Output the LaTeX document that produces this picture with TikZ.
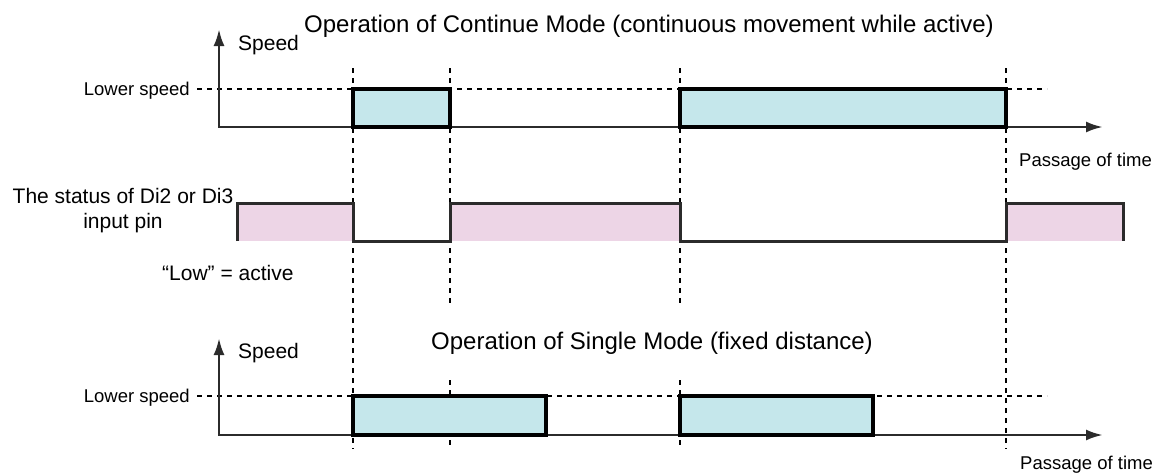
\documentclass[tikz,border=0pt]{standalone}
\usepackage{fontspec}
\setmainfont{Liberation Sans}
\usetikzlibrary{arrows.meta}

\definecolor{pulsecyan}{HTML}{C5E7EB}
\definecolor{pinpink}{HTML}{EDD5E6}
\definecolor{axisgrey}{HTML}{2B2B2B}

\begin{document}
\begin{tikzpicture}[
                        x = 1pt, y = -1pt,
                        > = {Latex[length=17pt,width=11pt]},
              axis/.style = {draw=axisgrey, line width=2.7pt, <->},
             guide/.style = {draw=black, line width=1.3pt, dash pattern=on 5pt off 5pt},
             pulse/.style = {draw=black, line width=3.3pt, fill=pulsecyan},
            signal/.style = {draw=axisgrey, line width=3pt},
              high/.style = {fill=pinpink},
             title/.style = {font=\fontsize{24}{27}\selectfont, anchor=base, inner sep=0pt},
             label/.style = {font=\fontsize{21}{25}\selectfont, inner sep=0pt},
             small/.style = {font=\fontsize{18.5}{22}\selectfont, inner sep=0pt},
            ]
    \useasboundingbox (0,0) rectangle (1156,474);

    % pin status fill
    \foreach \a/\b in {237/353, 450/680, 1006/1123}{%
        \fill[high] (\a,203) rectangle (\b,241);
    }

    % guide lines
    \foreach \t in {353,1006}{%
        \draw[guide] (\t,68) -- (\t,449);
    }
    \foreach \t in {450,680}{%
        \draw[guide] (\t,68) -- (\t,307);
        \draw[guide] (\t,380) -- (\t,449);
    }
    \draw[guide] (197,89) -- (1047,89);
    \draw[guide] (197,396) -- (1047,396);

    % axes
    \coordinate (contOrigin) at (219,127);
    \coordinate (contSpeed)  at (219,29);
    \coordinate (contTime)   at (1103,127);
    \coordinate (singOrigin) at (219,435);
    \coordinate (singSpeed)  at (219,338);
    \coordinate (singTime)   at (1103,435);
    \draw[axis] (contSpeed) -- (contOrigin) -- (contTime);
    \draw[axis] (singSpeed) -- (singOrigin) -- (singTime);

    % speed pulses
    \foreach \a/\b in {353/450, 680/1006}{%
        \draw[pulse] (\a,89) rectangle (\b,127);
    }
    \foreach \a/\b in {353/546, 680/873}{%
        \draw[pulse] (\a,396) rectangle (\b,435);
    }

    % pin status
    \draw[signal] (237,241) -- (237,203) -- (353,203) -- (353,241) -- (450,241)
        -- (450,203) -- (680,203) -- (680,241) -- (1006,241) -- (1006,203)
        -- (1123,203) -- (1123,241);

    % texts
    \node[title] (contTitle) at (649,32) {Operation of Continue Mode (continuous movement while active)};
    \node[title] (singTitle) at (652,349) {Operation of Single Mode (fixed distance)};
    \node[label, anchor=base west] (contSpeedLbl) at (238,50) {Speed};
    \node[label, anchor=base west] (singSpeedLbl) at (238,358) {Speed};
    \node[small, anchor=base east] (contLower) at (190,95) {Lower speed};
    \node[small, anchor=base east] (singLower) at (190,402) {Lower speed};
    \node[small, anchor=base west] (contPassage) at (1019,166) {Passage of time};
    \node[small, anchor=base west] (singPassage) at (1020,469) {Passage of time};
    \node[label, anchor=base] (pinStatus) at (123,203) {The status of Di2 or Di3};
    \node[label, anchor=base] (pinInput) at (123,228) {input pin};
    \node[label, anchor=base west] (pinActive) at (162,280) {“Low” = active};
\end{tikzpicture}
\end{document}
